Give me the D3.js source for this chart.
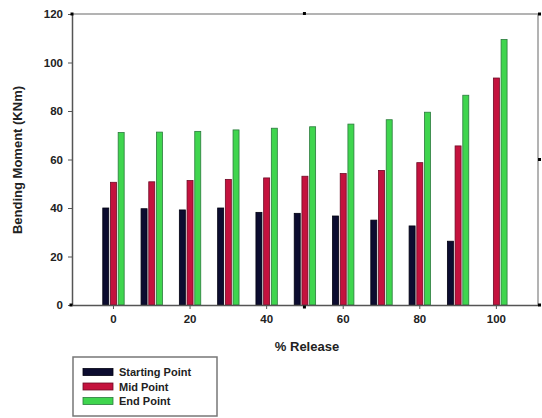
<!DOCTYPE html>
<html><head><meta charset="utf-8">
<script src="https://cdn.jsdelivr.net/npm/d3@7"></script>
<style>body{margin:0;background:#fff}svg{display:block}text{font-family:Arial,"Liberation Sans",sans-serif;font-weight:bold}</style>
</head><body>
<svg id="c" width="542" height="418"></svg>
<script>
const categories = [0,10,20,30,40,50,60,70,80,90,100];
const startingPoint = [40.0,39.7,39.2,40.0,38.2,37.8,36.7,35.0,32.6,26.3,null];
const midPoint = [50.6,50.8,51.3,51.8,52.4,53.1,54.2,55.5,58.7,65.6,93.6];
const endPoint = [71.1,71.3,71.6,72.2,72.9,73.5,74.6,76.4,79.5,86.5,109.5];
const seriesNames = ["Starting Point","Mid Point","End Point"];
const xTicks = [0,20,40,60,80,100];
const yTicks = [0,20,40,60,80,100,120];

const fills = ["#0c0c30","#c4123e","#3fd54e"];
const strokes = ["#000010","#6e0a25","#2a7a3c"];

const svg = d3.select("#c");
const L=72, R=538, T=14, B=305;
const x = d3.scaleLinear().domain([-10.7,111]).range([L,R]);
const y = d3.scaleLinear().domain([0,120]).range([B,T]);

// frame top/right
svg.append("line").attr("x1",L).attr("x2",R).attr("y1",T).attr("y2",T).attr("stroke","#9a9a9a").attr("stroke-width",1.5);
svg.append("line").attr("x1",R).attr("x2",R).attr("y1",T).attr("y2",B).attr("stroke","#9a9a9a").attr("stroke-width",1.5);

// bars
const series = [startingPoint, midPoint, endPoint];
const bw = 6, step = 7.7;
series.forEach((vals,si)=>{
  svg.append("g").selectAll("rect").data(categories.map((c,i)=>({c,v:vals[i]})).filter(d=>d.v!=null))
    .join("rect")
    .attr("x",d=>x(d.c)+(si-1)*step-bw/2+0.5)
    .attr("y",d=>y(d.v))
    .attr("width",bw)
    .attr("height",d=>B-y(d.v))
    .attr("fill",fills[si])
    .attr("stroke",strokes[si])
    .attr("stroke-width",0.8);
});

// axes
const ya = svg.append("g").attr("transform",`translate(${L},0)`)
  .call(d3.axisLeft(y).tickValues(yTicks).tickSize(4).tickSizeOuter(0));
ya.select(".domain").attr("stroke","#555").attr("stroke-width",1.5);
ya.selectAll(".tick line").attr("stroke","#555");
ya.selectAll(".tick text").attr("font-size",11.5).attr("fill","#222").attr("x",-9);

const xa = svg.append("g").attr("transform",`translate(0,${B})`)
  .call(d3.axisBottom(x).tickValues(xTicks).tickSize(4).tickSizeOuter(0));
xa.select(".domain").attr("stroke","#555").attr("stroke-width",1.5);
xa.selectAll(".tick line").attr("stroke","#555");
xa.selectAll(".tick text").attr("font-size",11.5).attr("fill","#222").attr("y",10);

// marker squares (sigmaplot style)
const marks = [[x(-10.7),y(120),-1.5,-1.5],[x(50),y(120),-1.5,-2],[R,y(120),0,-1.5],[R,y(60),0,-1.5],[R,y(0),0,-1.5],[x(50),y(0),-1.5,0.5],[x(-10.7),y(0),-2.5,-1.5]];
svg.append("g").selectAll("rect").data(marks).join("rect")
  .attr("x",d=>d[0]+d[2]).attr("y",d=>d[1]+d[3]).attr("width",3).attr("height",3).attr("fill","#000");

// titles
svg.append("text").attr("transform",`translate(22,160) rotate(-90)`)
  .attr("text-anchor","middle").attr("font-size",13).attr("fill","#222").text("Bending Moment (KNm)");
svg.append("text").attr("x",307).attr("y",351).attr("text-anchor","middle")
  .attr("font-size",13).attr("fill","#222").text("% Release");

// legend
const lg = svg.append("g");
lg.append("rect").attr("x",73).attr("y",357).attr("width",144).attr("height",59)
  .attr("fill","#fff").attr("stroke","#777").attr("stroke-width",1.5);
const ly = [372,386.5,401];
seriesNames.forEach((n,i)=>{
  lg.append("rect").attr("x",83).attr("y",ly[i]-3.5).attr("width",30).attr("height",7)
    .attr("fill",fills[i]).attr("stroke",strokes[i]).attr("stroke-width",0.8);
  lg.append("text").attr("x",119).attr("y",ly[i]+4).attr("font-size",11).attr("fill","#222").text(n);
});
</script>
</body></html>
